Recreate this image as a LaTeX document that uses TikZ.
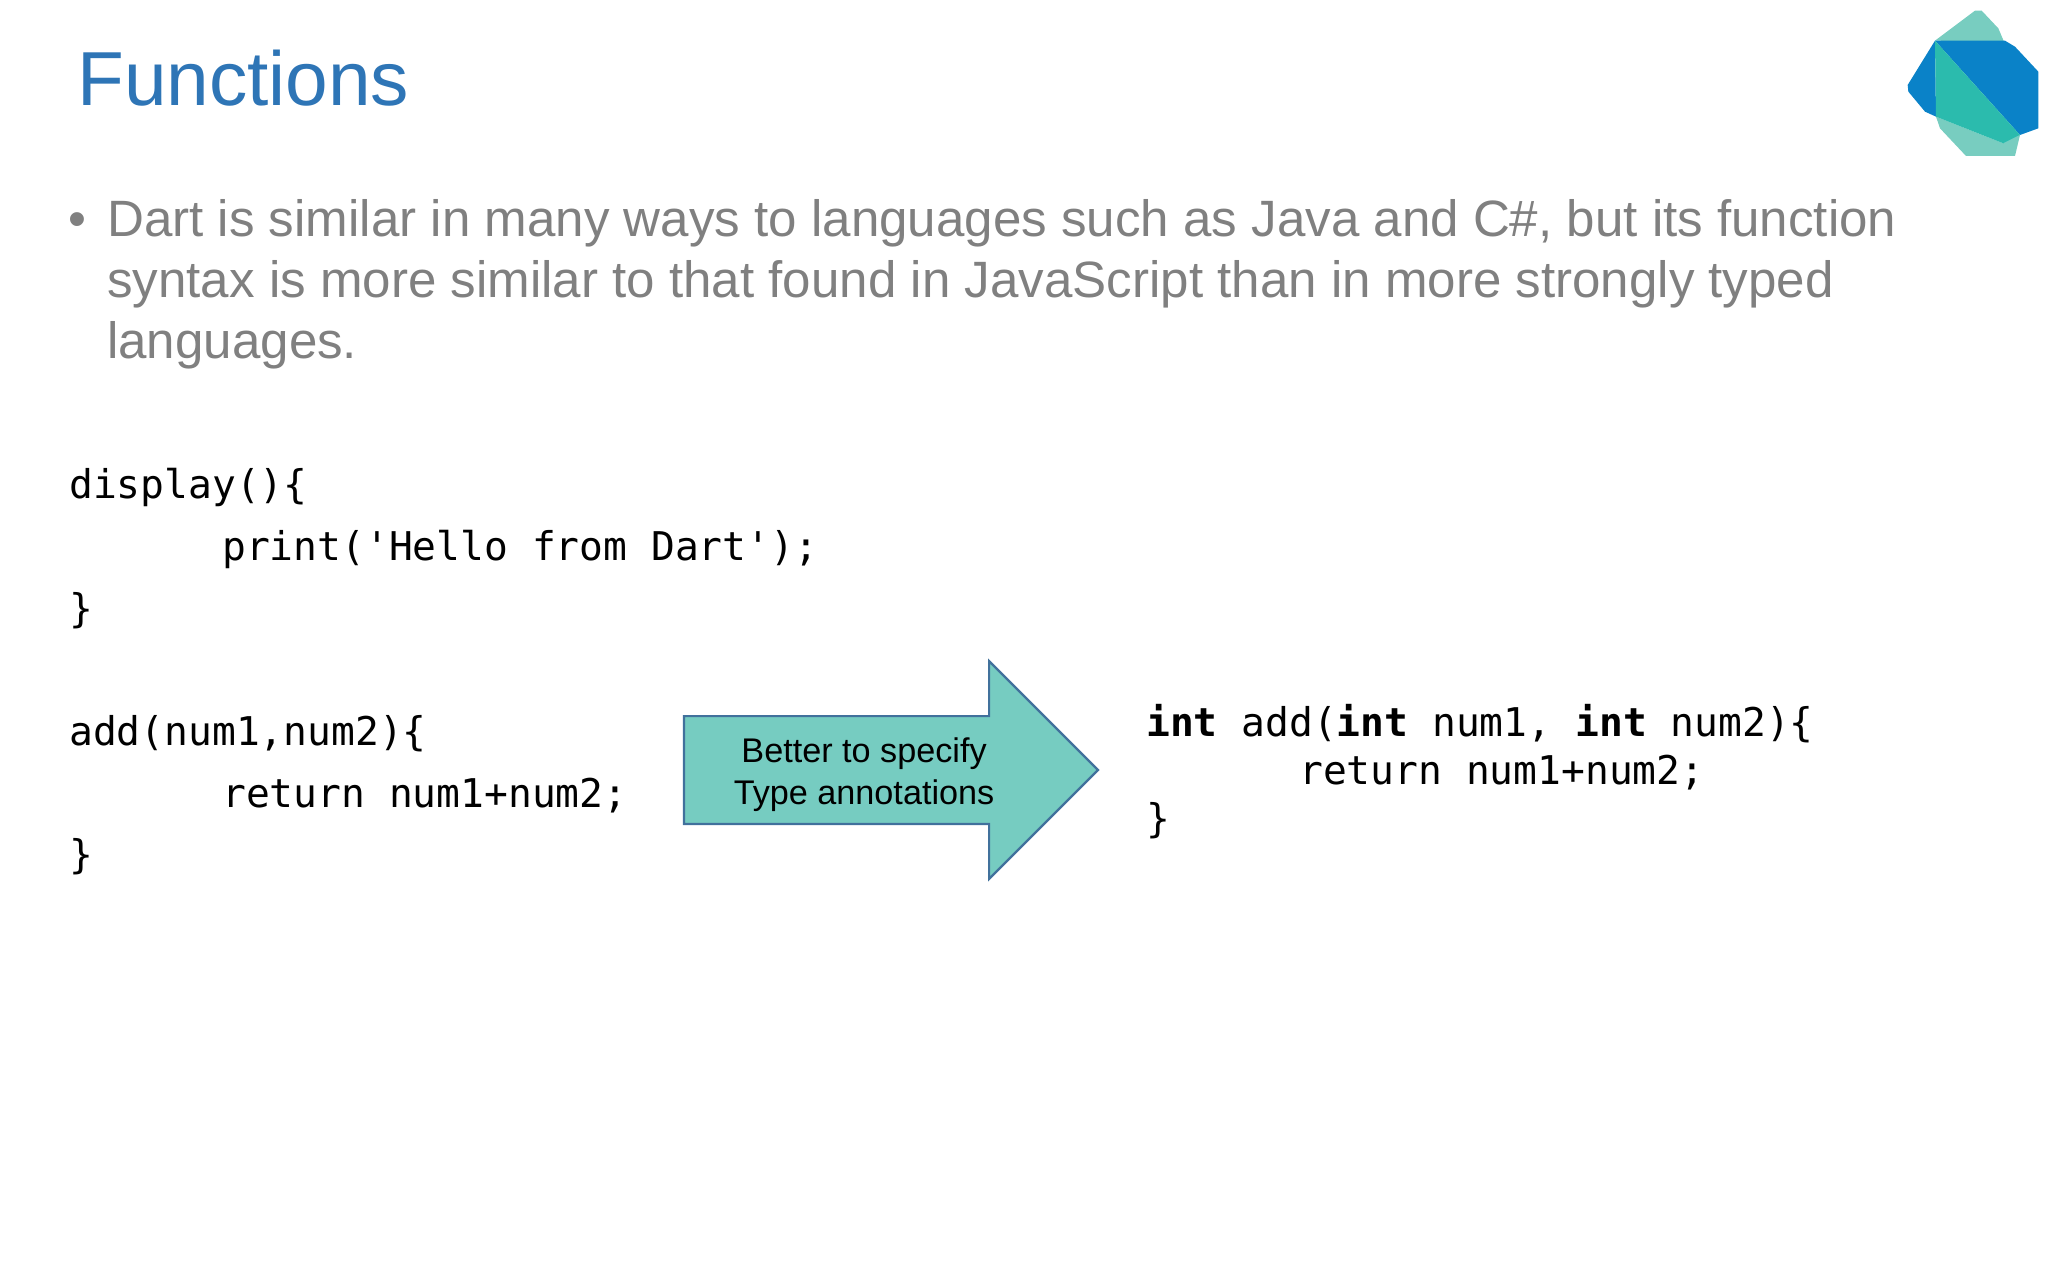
\documentclass[tikz,border=0pt]{standalone}
\usepackage{fontspec}
\setmainfont{Liberation Sans}
\setmonofont{DejaVu Sans Mono}
\usetikzlibrary{shapes.arrows}
\definecolor{titleblue}{HTML}{2E75B6}
\definecolor{bodygray}{HTML}{808080}
\definecolor{arrowfill}{HTML}{76CCC1}
\definecolor{arrowline}{HTML}{41719C}
\definecolor{dartblue}{HTML}{0A82C8}
\definecolor{dartteal}{HTML}{2BBBAD}
\definecolor{dartlight}{HTML}{78CDC0}

\begin{document}
\begin{tikzpicture}[x=1pt, y=-1pt,
        title/.style={anchor=base west, inner sep=0pt, text=titleblue, font=\fontsize{76.6}{80}\selectfont},
        body/.style={anchor=base west, inner sep=0pt, text=bodygray, font=\fontsize{51.1}{61}\selectfont},
        code/.style={anchor=north west, inner sep=0pt, align=left, text=black},
        slowcode/.style={code, font=\ttfamily\fontsize{39.6}{61.8}\selectfont},
        fastcode/.style={code, font=\ttfamily\fontsize{39.6}{47.8}\selectfont},
        callout/.style={single arrow, draw=arrowline, line width=2.2pt, fill=arrowfill, outer sep=0pt, inner xsep=0pt, inner ysep=11.5pt,
            align=center, font=\fontsize{34.2}{41.5}\selectfont,
            minimum height=414pt, single arrow tip angle=90, single arrow head extend=55pt}]
        \useasboundingbox (0,0) rectangle (2048,1280);
        % logo
        \begin{scope}[shift={(1860,0)}, x=0.3333pt, y=-0.3333pt]
            \fill[dartlight] (225,122) -- (345,32) -- (365,32) -- (415,85) -- (432,125) -- cycle;
            \fill[dartlight] (228,350) -- (430,430) -- (480,405) -- (465,468) -- (318,468) -- (240,385) -- cycle;
            \fill[dartblue] (225,122) -- (435,122) -- (465,140) -- (535,215) -- (535,385) -- (480,405) -- cycle;
            \fill[dartblue] (225,122) -- (143,255) -- (145,275) -- (195,335) -- (228,350) -- cycle;
            \fill[dartteal] (225,122) -- (480,405) -- (430,430) -- (228,350) -- cycle;
        \end{scope}
        \node[title] (head) at (77,105.5) {Functions};
        \node[body] (dot) at (68,236.5) {•};
        \node[body] (line1) at (107,236.5) {Dart is similar in many ways to languages such as Java and C\#, but its function};
        \node[body] (line2) at (107,297.5) {syntax is more similar to that found in JavaScript than in more strongly typed};
        \node[body] (line3) at (107,358.5) {languages.};
        \node[slowcode] (display) at (69,468) {display()\{\\\hspace*{153pt}print('Hello from Dart');\\\}};
        \node[slowcode] (plain) at (69,715) {add(num1,num2)\{\\\hspace*{153pt}return num1+num2;\\\}};
        \node[callout, anchor=tip] (better) at (1098,770) {\rule{0pt}{34pt}Better to specify\\Type annotations};
        \node[fastcode] (typed) at (1146,704) {\textbf{int} add(\textbf{int} num1, \textbf{int} num2)\{\\\hspace*{153pt}return num1+num2;\\\}};
    \end{tikzpicture}
\end{document}
